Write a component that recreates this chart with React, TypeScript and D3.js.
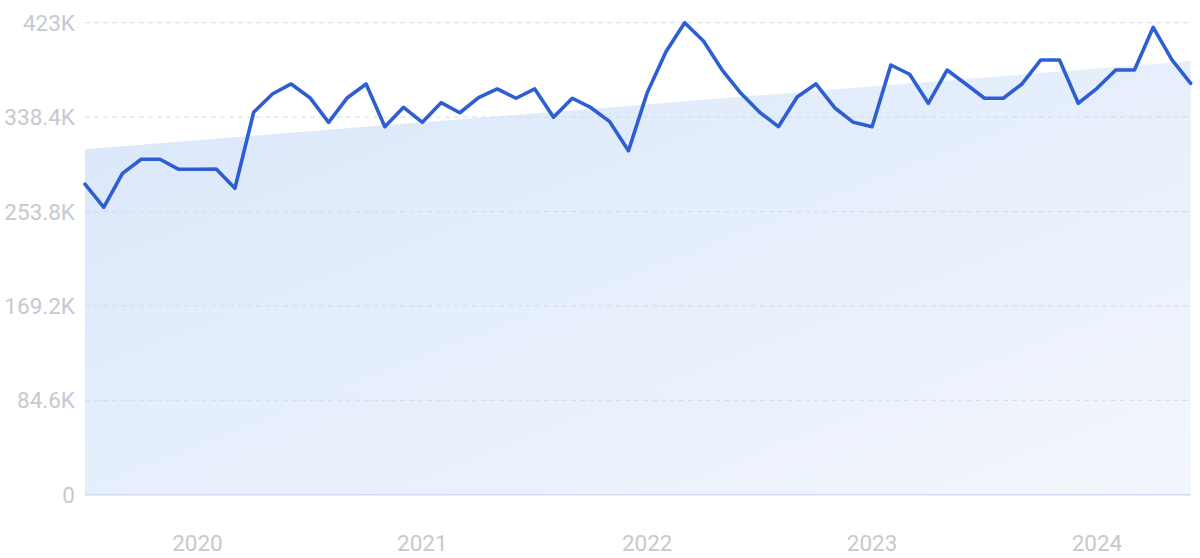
import React from "react";
import * as d3 from "d3";

const startYear = 2019;
const startMonth = 6; // July (0-based)
const values: number[] = [
  278400, 257600, 288000, 300600, 300600, 291600, 291600, 291900, 274600, 342700,
  359100, 368100, 355800, 333700, 355800, 368100, 329800, 347200, 333700, 351300,
  342300, 355800, 363600, 355300, 363600, 338200, 355300, 346800, 334300, 308300,
  360300, 397000, 423000, 406600, 380600, 359700, 342700, 329800, 356400, 368100,
  346800, 333700, 329800, 385100, 376800, 350800, 380600, 368100, 355300, 355300,
  368100, 389600, 389600, 350800, 364200, 380600, 380600, 418900, 389600, 368700,
];
const trendValues: number[] = [309600, 388700];
const yTickValues: number[] = [0, 84600, 169200, 253800, 338400, 423000];
const yTickLabels: string[] = ["0", "84.6K", "169.2K", "253.8K", "338.4K", "423K"];
const xTickYears: number[] = [2020, 2021, 2022, 2023, 2024];

const W = 1200;
const H = 558;
const left = 85;
const right = 1190.7;
const top = 22.7;
const bottom = 494.7;

export default function App() {
  const x = d3.scaleLinear().domain([0, values.length - 1]).range([left, right]);
  const y = d3.scaleLinear().domain([0, 423000]).range([bottom, top]);

  const line = d3
    .line<number>()
    .x((_, i) => x(i))
    .y((d) => y(d))
    .curve(d3.curveLinear);

  const trendPts: [number, number][] = [
    [0, trendValues[0]],
    [values.length - 1, trendValues[1]],
  ];
  const area = d3
    .area<[number, number]>()
    .x((d) => x(d[0]))
    .y0(y(0))
    .y1((d) => y(d[1]));

  const yearIndex = (yr: number) => (yr - startYear) * 12 - startMonth;
  const font = "Roboto, 'Noto Sans', sans-serif";

  return (
    <svg
      width={W}
      height={H}
      style={{ position: "absolute", left: 0, top: 0, background: "#fff" }}
    >
      <defs>
        <linearGradient id="fillGrad" x1="0" y1="0" x2="1" y2="1">
          <stop offset="0%" stopColor="#d9e7fa" />
          <stop offset="100%" stopColor="#f3f6fd" />
        </linearGradient>
      </defs>
      <path d={area(trendPts) || ""} fill="url(#fillGrad)" />
      {yTickValues.map((v, i) =>
        v === 0 ? null : (
          <line
            key={"g" + i}
            x1={left}
            x2={right}
            y1={y(v)}
            y2={y(v)}
            stroke="#d3dcec"
            strokeWidth={1}
            strokeDasharray="5,4"
          />
        )
      )}
      <line x1={left} x2={right} y1={y(0)} y2={y(0)} stroke="#cfdcf3" strokeWidth={1.5} />
      {yTickValues.map((v, i) => (
        <text
          key={"yl" + i}
          x={75}
          y={y(v) + 8}
          textAnchor="end"
          fontFamily={font}
          fontSize={22.5}
          fill="#c6c9d0"
        >
          {yTickLabels[i]}
        </text>
      ))}
      {xTickYears.map((yr) => (
        <text
          key={"xl" + yr}
          x={x(yearIndex(yr))}
          y={550.7}
          textAnchor="middle"
          fontFamily={font}
          fontSize={22.5}
          fill="#c6c9d0"
        >
          {yr}
        </text>
      ))}
      <path
        d={line(values) || ""}
        fill="none"
        stroke="#2e5fd2"
        strokeWidth={3.6}
        strokeLinejoin="round"
        strokeLinecap="round"
      />
    </svg>
  );
}
